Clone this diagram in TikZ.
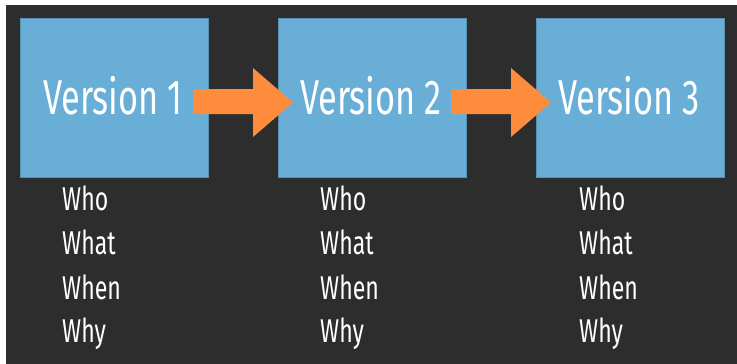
\documentclass[tikz,border=0pt]{standalone}
\usepackage{fontspec}
\setmainfont[FakeStretch=0.7]{Fira Sans}
\definecolor{bgdark}{HTML}{2D2D2D}
\definecolor{boxblue}{HTML}{69AED6}
\definecolor{boxedge}{HTML}{5A90B2}
\definecolor{arroworange}{HTML}{FD8D3C}
\begin{document}
\begin{tikzpicture}[x=1pt,y=-1pt,
  verbox/.style={draw=boxedge,fill=boxblue,line width=1pt,minimum width=188pt,minimum height=159pt,inner sep=0pt},
  vertext/.style={text=white,font=\fontsize{49}{49}\selectfont,anchor=base,inner sep=0pt},
  wtext/.style={text=white,font=\fontsize{33}{33}\selectfont,anchor=base west,inner sep=0pt},
  blockarrow/.style={fill=arroworange,draw=none}]
\useasboundingbox (0,0) rectangle (737,364);
\fill[white] (0,0) rectangle (737,364);
\fill[bgdark] (6,5) rectangle (737,364);
\node[verbox] (b1) at (114,97.5) {};
\node[verbox] (b2) at (372,97.5) {};
\node[verbox] (b3) at (630.5,97.5) {};
\node[vertext] (t1) at (113,114) {Version 1};
\node[vertext] (t2) at (371,114) {Version 2};
\node[vertext] (t3) at (629,114) {Version 3};
\foreach \i/\x in {1/62,2/320,3/579}{
  \node[wtext] (who\i) at (\x,210) {Who};
  \node[wtext] (what\i) at (\x,254) {What};
  \node[wtext] (when\i) at (\x,299) {When};
  \node[wtext] (why\i) at (\x,342) {Why};
}
\foreach \s in {0,258}{
  \fill[blockarrow] (193+\s,89) -- (253+\s,89) -- (253+\s,68) -- (293+\s,102.5)
    -- (253+\s,137) -- (253+\s,114) -- (193+\s,114) -- cycle;
}
\end{tikzpicture}
\end{document}
